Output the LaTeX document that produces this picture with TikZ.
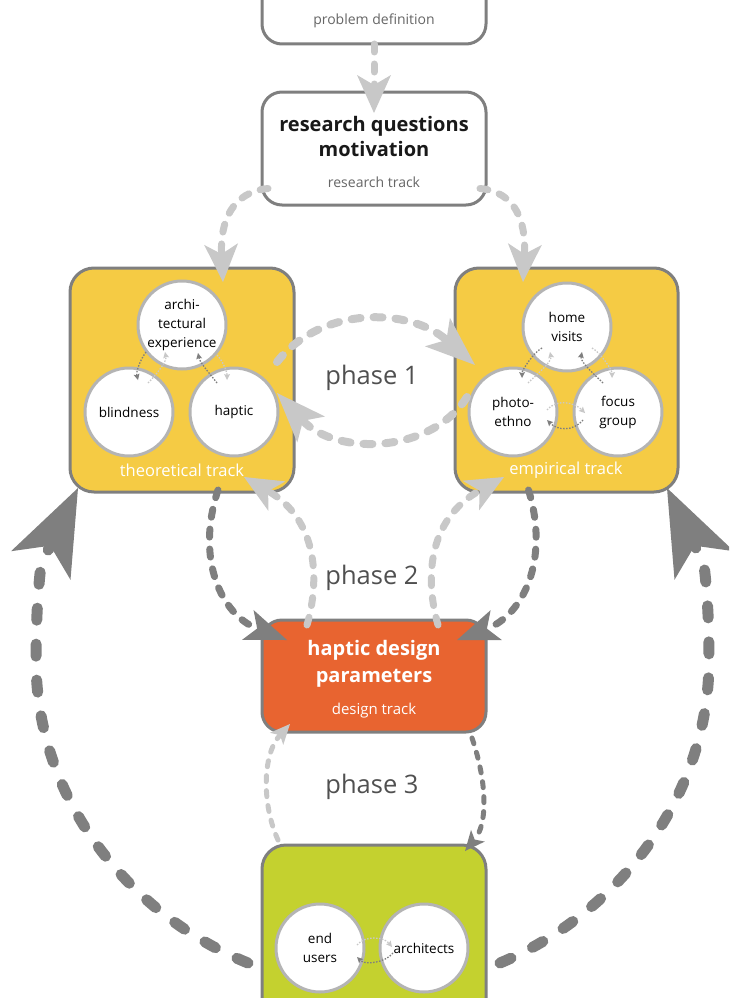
\documentclass[tikz,border=0pt]{standalone}
\usepackage{fontspec}
\setmainfont{Open Sans}
\usetikzlibrary{arrows.meta,calc}
\definecolor{lgray}{HTML}{C8C8C8}
\definecolor{dgray}{HTML}{7F7F7F}
\definecolor{bgray}{HTML}{7F7F7F}
\definecolor{cgray}{HTML}{B4B4B4}
\definecolor{tyellow}{HTML}{F5CB44}
\definecolor{torange}{HTML}{E86430}
\definecolor{tgreen}{HTML}{C4D12F}
\definecolor{txtgray}{HTML}{666666}
\definecolor{phgray}{HTML}{505050}
\begin{document}
\begin{tikzpicture}[x=1pt,y=-1pt,
  box/.style={draw=bgray, line width=3pt, rounded corners=20pt, inner sep=0pt, outer sep=0pt},
  circ/.style={circle, draw=cgray, line width=3pt, fill=white, minimum size=88pt, inner sep=0pt,
     align=center, font=\fontsize{13.5}{19}\selectfont, text=black},
  trk/.style={font=\fontsize{16.5}{18}\selectfont, text=white},
  phl/.style={font=\fontsize{25.5}{28}\selectfont, text=phgray},
  medl/.style={draw=lgray, line width=7pt, line cap=round, dash pattern=on 8pt off 12pt},
  medd/.style={draw=dgray, line width=7pt, line cap=round, dash pattern=on 8pt off 12pt},
  thkl/.style={draw=lgray, line width=8pt, line cap=round, dash pattern=on 9pt off 13pt},
  smll/.style={draw=lgray, line width=5pt, line cap=round, dash pattern=on 6pt off 9pt},
  smld/.style={draw=dgray, line width=5pt, line cap=round, dash pattern=on 6pt off 9pt},
  bigd/.style={draw=dgray, line width=11pt, line cap=round, dash pattern=on 12pt off 24pt},
  dotl/.style={draw=lgray, line width=1.3pt, dash pattern=on 1.5pt off 1.5pt,
     -{Stealth[length=6pt,width=6pt,inset=1pt,line width=0pt]}},
  dotd/.style={draw=dgray, line width=1.3pt, dash pattern=on 1.5pt off 1.5pt,
     -{Stealth[length=6pt,width=6pt,inset=1pt,line width=0pt]}},
  tipa/.style={-{Stealth[length=38pt,width=34pt,inset=10pt,line width=0pt]}},
  tipb/.style={-{Stealth[length=50pt,width=38pt,inset=12pt,line width=0pt]}},
  tipc/.style={-{Stealth[length=42pt,width=32pt,inset=10pt,line width=0pt]}},
  tipe/.style={-{Stealth[length=20pt,width=18pt,inset=5pt,line width=0pt]}},
  tipf/.style={-{Stealth[length=86pt,width=66pt,inset=22pt,line width=0pt]}}
]
\clip (0,0) rectangle (729,998);

% boxes
\node[box, fill=white, minimum width=224pt, minimum height=74pt] (pd) at (374,7) {};
\node[box, fill=white, minimum width=224pt, minimum height=113pt] (rq) at (374,148.5) {};
\node[box, fill=tyellow, minimum width=224pt, minimum height=224pt, rounded corners=24pt] (th) at (182,380) {};
\node[box, fill=tyellow, minimum width=223pt, minimum height=224pt, rounded corners=24pt] (em) at (566.5,380) {};
\node[box, fill=torange, minimum width=224pt, minimum height=112pt] (hd) at (374,676) {};
\node[box, fill=tgreen, minimum width=224pt, minimum height=220pt, rounded corners=24pt] (gr) at (374,955) {};

% box texts
\node[font=\fontsize{14}{16}\selectfont, text=txtgray] (pdt) at (374,21) {problem definition};
\node[font=\fontsize{20}{25}\selectfont\bfseries, align=center, text=black!90] (rqt) at (374,136) {research questions\\motivation};
\node[font=\fontsize{14}{16}\selectfont, text=txtgray] (rqs) at (374,182) {research track};
\node[trk] (tht) at (182,470) {theoretical track};
\node[trk] (emt) at (566,470) {empirical track};
\node[font=\fontsize{20}{27}\selectfont\bfseries, text=white, align=center] (hdt) at (374,664) {haptic design\\parameters};
\node[font=\fontsize{15}{17}\selectfont, text=white] (hds) at (374,711) {design track};

% phase labels
\node[phl] (p1) at (372,378) {phase 1};
\node[phl] (p2) at (372,578) {phase 2};
\node[phl] (p3) at (372,787) {phase 3};

% circles
\node[circ] (ar) at (182,325) {archi-\\tectural\\experience};
\node[circ] (bl) at (129,412) {blindness};
\node[circ] (hp) at (234,412) {haptic};
\node[circ] (hv) at (567,327) {home\\visits};
\node[circ] (pe) at (513,412) {photo-\\ethno};
\node[circ] (fg) at (618,412) {focus\\group};
\node[circ] (eu) at (320,948) {end\\users};
\node[circ] (ac) at (424,948) {architects};

% small dotted arrows
\draw[dotd] ([shift={(-36,27)}]ar.center) .. controls +(-6,8) and +(-2,-8) .. ([shift={(9,-32)}]bl.center);
\draw[dotl] ([shift={(19,-29)}]bl.center) .. controls +(6,-6) and +(2,10) .. ([shift={(-17,27)}]ar.center);
\draw[dotd] ([shift={(-17,-29)}]hp.center) .. controls +(-6,-8) and +(2,10) .. ([shift={(16,28)}]ar.center);
\draw[dotl] ([shift={(35,30)}]ar.center) .. controls +(6,6) and +(0,-8) .. ([shift={(-7,-32)}]hp.center);
\draw[dotd] ([shift={(-25,21)}]hv.center) .. controls +(-8,4) and +(0,-8) .. ([shift={(9,-34)}]pe.center);
\draw[dotl] ([shift={(15,-29)}]pe.center) .. controls +(6,-6) and +(2,10) .. ([shift={(-17,25)}]hv.center);
\draw[dotd] ([shift={(-15,-29)}]fg.center) .. controls +(-6,-6) and +(-2,10) .. ([shift={(15,25)}]hv.center);
\draw[dotl] ([shift={(25,21)}]hv.center) .. controls +(8,4) and +(0,-8) .. ([shift={(-6,-34)}]fg.center);
\draw[dotl] ([shift={(34,-2)}]pe.center) .. controls +(10,-12) and +(-10,-10) .. ([shift={(-33,1)}]fg.center);
\draw[dotd] ([shift={(-35,8)}]fg.center) .. controls +(-10,12) and +(10,10) .. ([shift={(34,8)}]pe.center);
\draw[dotl] ([shift={(37,-3)}]eu.center) .. controls +(8,-10) and +(-8,-10) .. ([shift={(-32,-1)}]ac.center);
\draw[dotd] ([shift={(-31,5)}]ac.center) .. controls +(-8,10) and +(8,8) .. ([shift={(37,9)}]eu.center);

% problem -> research
\draw[medl, tipa] (pd.south) -- ([shift={(0,21)}]rq.north);
% research -> tracks
\draw[medl, tipa] ([shift={(6,40)}]rq.west) .. controls (232,192) and (220,222) .. ([shift={(41,14)}]th.north);
\draw[medl, tipa] ([shift={(-6,40)}]rq.east) .. controls (516,192) and (526,222) .. ([shift={(-43.5,14)}]em.north);
% phase 1
\draw[thkl, tipb] ([shift={(-17,-18)}]th.east) .. controls (322,305) and (410,308) .. ([shift={(20,-15)}]em.west);
\draw[thkl, tipb] ([shift={(12,17)}]em.west) .. controls (430,455) and (335,455) .. ([shift={(-17,13)}]th.east);
% phase 2
\draw[medd, tipc] ([shift={(36,-2)}]th.south) .. controls (195,560) and (222,615) .. ([shift={(25,20)}]hd.north west);
\draw[medd, tipc] ([shift={(-38,-2)}]em.south) .. controls (550,560) and (523,615) .. ([shift={(-29,20)}]hd.north east);
\draw[medl, tipa] ([shift={(45,5)}]hd.north west) .. controls (320,580) and (318,520) .. ([shift={(62,-15)}]th.south);
\draw[medl, tipa] ([shift={(-48,5)}]hd.north east) .. controls (425,580) and (427,520) .. ([shift={(-62.5,-15)}]em.south);
% phase 3
\draw[smll, tipe] ([shift={(16,-5)}]gr.north west) .. controls (262,805) and (262,755) .. ([shift={(28,-8)}]hd.south west);
\draw[smld, tipe] ([shift={(-14,6)}]hd.south east) .. controls (488,785) and (487,825) .. ([shift={(-21,6)}]gr.north east);
% big loops
\draw[bigd, tipf] ([shift={(-14,8)}]gr.west) .. controls (130,915) and (36,800) .. (36,660)
   .. controls (36,620) and (38,590) .. (41,565) -- ([shift={(8,-4)}]th.south west);
\draw[bigd, tipf] ([shift={(14,8)}]gr.east) .. controls (615,915) and (709,800) .. (709,660)
   .. controls (709,620) and (707,590) .. (704,565) -- ([shift={(-11,-4)}]em.south east);
\end{tikzpicture}
\end{document}
